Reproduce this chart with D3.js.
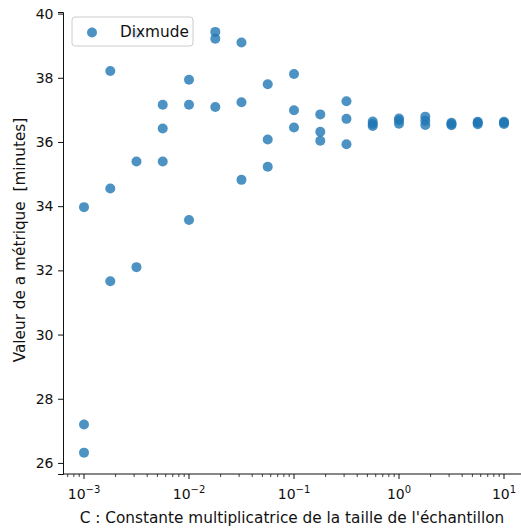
<!DOCTYPE html>
<html>
<head>
<meta charset="utf-8">
<script src="https://cdn.jsdelivr.net/npm/d3@7"></script>
<style>
  html, body { margin: 0; padding: 0; background: #fff; }
  svg { display: block; font-family: "DejaVu Sans", sans-serif; }
</style>
</head>
<body>
<svg id="chart" width="521" height="528"></svg>
<script>
// Sample-size multiplier C (log-spaced) and the metric measured for each of three runs
const cValues = [0.001, 0.00178, 0.00316, 0.00562, 0.01, 0.0178, 0.0316, 0.0562,
                 0.1, 0.178, 0.316, 0.562, 1, 1.78, 3.16, 5.62, 10];
const dixmudeRuns = [
  [33.97, 27.20, 26.32],
  [38.21, 34.55, 31.66],
  [39.36, 35.39, 32.10],
  [37.16, 36.42, 35.39],
  [37.94, 37.16, 33.57],
  [39.43, 39.22, 37.09],
  [39.10, 37.24, 34.82],
  [37.80, 36.08, 35.23],
  [38.12, 36.99, 36.45],
  [36.86, 36.32, 36.04],
  [37.27, 36.72, 35.93],
  [36.64, 36.56, 36.50],
  [36.73, 36.67, 36.57],
  [36.79, 36.66, 36.53],
  [36.60, 36.56, 36.52],
  [36.63, 36.60, 36.55],
  [36.63, 36.60, 36.56]
];
const yTicks = [26, 28, 30, 32, 34, 36, 38, 40];
const xMajorExponents = [-3, -2, -1, 0, 1];
const seriesName = "Dixmude";
const xLabel = "C : Constante multiplicatrice de la taille de l'échantillon";
const yLabel = "Valeur de a métrique  [minutes]";

const points = [];
cValues.forEach((c, i) => dixmudeRuns[i].forEach(v => points.push({ c, v })));

const svg = d3.select("#chart");
const color = "#1f77b4";
const ink = "#111";
const tickFont = 14;
const labelFont = 15.3;
const plotLeft = 63, plotRight = 525, plotTop = 12, plotBottom = 474;

const x = d3.scaleLog().domain([Math.pow(10, -3.2), Math.pow(10, 1.2)]).range([plotLeft, plotRight]);
const y = d3.scaleLinear().domain([25.655, 40.05]).range([plotBottom, plotTop]);

// Points
svg.append("g").selectAll("circle")
  .data(points).join("circle")
  .attr("cx", d => x(d.c))
  .attr("cy", d => y(d.v))
  .attr("r", 5)
  .attr("fill", color)
  .attr("fill-opacity", 0.8);

// Y axis
const yAxis = svg.append("g").attr("transform", `translate(${plotLeft},0)`)
  .call(d3.axisLeft(y).tickValues(yTicks).tickSize(5).tickPadding(4.5).tickFormat(d3.format("d")));
yAxis.select(".domain").attr("stroke", ink).attr("stroke-width", 1);
yAxis.selectAll(".tick line").attr("stroke", ink);
yAxis.selectAll("text").attr("font-size", tickFont).attr("fill", ink)
  .attr("font-family", "DejaVu Sans, sans-serif");

// X axis (log), major ticks with superscript labels
const xAxisG = svg.append("g").attr("transform", `translate(0,${plotBottom})`);
xAxisG.append("line").attr("x1", plotLeft).attr("x2", plotRight)
  .attr("stroke", ink).attr("stroke-width", 1);

const minorTicks = [];
for (let e = -4; e <= 1; e++) {
  for (let m = 2; m <= 9; m++) {
    const val = m * Math.pow(10, e);
    if (val >= x.domain()[0] && val <= x.domain()[1]) minorTicks.push(val);
  }
}
xAxisG.selectAll(".minor").data(minorTicks).join("line")
  .attr("class", "minor")
  .attr("x1", d => x(d)).attr("x2", d => x(d))
  .attr("y1", 0).attr("y2", 3)
  .attr("stroke", ink).attr("stroke-width", 0.8);

const major = xAxisG.selectAll(".major").data(xMajorExponents).join("g")
  .attr("class", "major")
  .attr("transform", d => `translate(${x(Math.pow(10, d))},0)`);
major.append("line").attr("y2", 5).attr("stroke", ink).attr("stroke-width", 1);
const lbl = major.append("text")
  .attr("y", 24.5)
  .attr("text-anchor", "middle")
  .attr("font-size", tickFont)
  .attr("fill", ink);
lbl.append("tspan").text("10");
lbl.append("tspan")
  .attr("dy", -6)
  .attr("font-size", 10)
  .text(d => d < 0 ? "\u2212" + Math.abs(d) : String(d));

// Axis titles
svg.append("text")
  .attr("x", 292)
  .attr("y", 523)
  .attr("text-anchor", "middle")
  .attr("font-size", labelFont)
  .attr("fill", ink)
  .text(xLabel);

svg.append("text")
  .attr("transform", `translate(25,240) rotate(-90)`)
  .attr("text-anchor", "middle")
  .attr("font-size", labelFont)
  .attr("fill", ink)
  .style("white-space", "pre")
  .text(yLabel);

// Legend
const legend = svg.append("g").attr("transform", "translate(72,17)");
legend.append("rect")
  .attr("width", 121).attr("height", 29).attr("rx", 3)
  .attr("fill", "#fff").attr("fill-opacity", 0.8)
  .attr("stroke", "#ccc").attr("stroke-width", 1);
legend.append("circle").attr("cx", 20).attr("cy", 15.5).attr("r", 5)
  .attr("fill", color).attr("fill-opacity", 0.8);
legend.append("text").attr("x", 48).attr("y", 20)
  .attr("font-size", labelFont).attr("fill", ink).text(seriesName);
</script>
</body>
</html>
